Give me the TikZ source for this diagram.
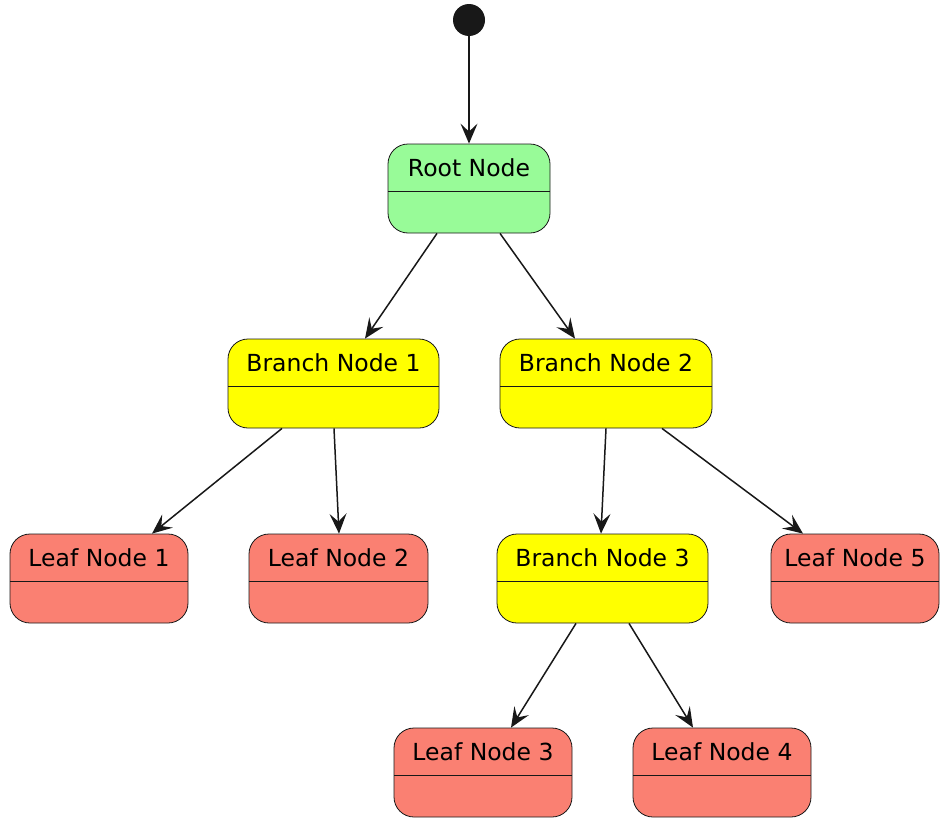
\documentclass[tikz,border=0pt]{standalone}
\usepackage{fontspec}
\setmainfont{DejaVu Sans}
\usetikzlibrary{arrows.meta}

\definecolor{rootgreen}{HTML}{98FB98}
\definecolor{branchyellow}{HTML}{FFFF00}
\definecolor{leafsalmon}{HTML}{FA8072}
\definecolor{inkdark}{HTML}{181818}

\tikzset{
  stbox/.style={draw=inkdark, line width=0.8pt, rounded corners=20pt,
    minimum height=89pt, inner sep=0pt, font=\fontsize{23.5}{26}\selectfont,
    text height=12pt, text depth=37pt,
    path picture={\draw[inkdark, line width=0.8pt]
      ([yshift=-47pt]path picture bounding box.north west) --
      ([yshift=-47pt]path picture bounding box.north east);}},
  rootst/.style={stbox, fill=rootgreen},
  branchst/.style={stbox, fill=branchyellow},
  leafst/.style={stbox, fill=leafsalmon},
  flow/.style={draw=inkdark, line width=1.5pt,
    -{Stealth[length=20pt, width=17pt, inset=8pt]}}
}

\begin{document}
\begin{tikzpicture}[x=1pt, y=-1pt]

  \useasboundingbox (0,0) rectangle (940,819);

  % start point
  \node[circle, fill=inkdark, minimum size=32pt, inner sep=0pt] (start) at (469,20) {};

  % root
  \node[rootst, minimum width=162pt] (root) at (469,188.5) {Root Node};

  % branches
  \node[branchst, minimum width=211pt] (bn1) at (333.5,383.5) {Branch Node 1};
  \node[branchst, minimum width=212pt] (bn2) at (606,383.5) {Branch Node 2};
  \node[branchst, minimum width=211pt] (bn3) at (602.5,578.5) {Branch Node 3};

  % leaves
  \node[leafst, minimum width=178pt] (ln1) at (99,578.5) {Leaf Node 1};
  \node[leafst, minimum width=179pt] (ln2) at (338.5,578.5) {Leaf Node 2};
  \node[leafst, minimum width=168pt] (ln5) at (855,578.5) {Leaf Node 5};
  \node[leafst, minimum width=178pt] (ln3) at (483,772.5) {Leaf Node 3};
  \node[leafst, minimum width=178pt] (ln4) at (722,772.5) {Leaf Node 4};

  % edges
  \draw[flow] (start) -- (root.north);
  \draw[flow] ([xshift=-32pt]root.south) -- ([xshift=31.5pt]bn1.north);
  \draw[flow] ([xshift=31pt]root.south) -- ([xshift=-31pt]bn2.north);
  \draw[flow] ([xshift=-51.5pt]bn1.south) -- ([xshift=53pt]ln1.north);
  \draw[flow] ([xshift=0.5pt]bn1.south) -- ([xshift=0.5pt]ln2.north);
  \draw[flow] (bn2.south) -- ([xshift=-1.5pt]bn3.north);
  \draw[flow] ([xshift=56pt]bn2.south) -- ([xshift=-52pt]ln5.north);
  \draw[flow] ([xshift=-26.5pt]bn3.south) -- ([xshift=28pt]ln3.north);
  \draw[flow] ([xshift=26.5pt]bn3.south) -- ([xshift=-29pt]ln4.north);

\end{tikzpicture}
\end{document}
